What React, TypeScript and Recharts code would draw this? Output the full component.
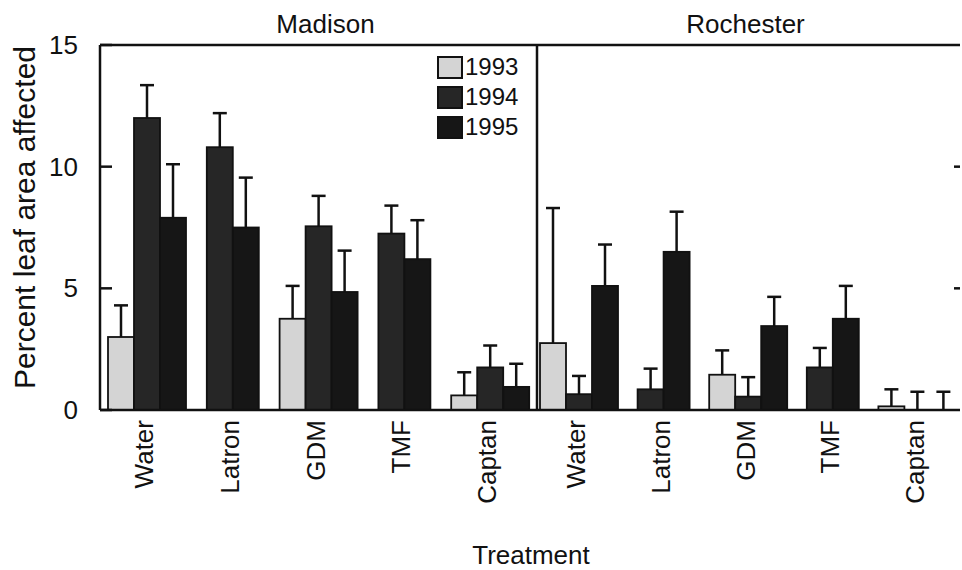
import { BarChart, Bar, XAxis, YAxis, Legend } from "recharts";

const FONT = '"Liberation Sans", Arial, Helvetica, sans-serif';
const INK = "#111111";

const treatments = ["Water", "Latron", "GDM", "TMF", "Captan"];
const years = ["1993", "1994", "1995"];
const yearFills = ["#d4d4d4", "#262626", "#161616"];
const yTicks = [0, 5, 10, 15];
const Y_MAX = 15;

// Madison, mean percent leaf area affected + upper error (SE)
const madison1993 = [3.0, null, 3.75, null, 0.6];
const madison1993Err = [1.3, null, 1.35, null, 0.95];
const madison1994 = [12.0, 10.8, 7.55, 7.25, 1.75];
const madison1994Err = [1.35, 1.4, 1.25, 1.15, 0.9];
const madison1995 = [7.9, 7.5, 4.85, 6.2, 0.95];
const madison1995Err = [2.2, 2.05, 1.7, 1.6, 0.95];

// Rochester
const rochester1993 = [2.75, null, 1.45, null, 0.15];
const rochester1993Err = [5.55, null, 1.0, null, 0.7];
const rochester1994 = [0.65, 0.85, 0.55, 1.75, 0];
const rochester1994Err = [0.75, 0.85, 0.8, 0.8, 0.75];
const rochester1995 = [5.1, 6.5, 3.45, 3.75, 0];
const rochester1995Err = [1.7, 1.65, 1.2, 1.35, 0.75];

function buildRows(vals: (number | null)[][], errs: (number | null)[][]) {
  return treatments.map((t, i) => {
    const row: any = { treatment: t };
    years.forEach((yr, k) => {
      row["y" + yr] = vals[k][i];
      row["e" + yr] = errs[k][i];
    });
    return row;
  });
}

const madisonRows = buildRows(
  [madison1993, madison1994, madison1995],
  [madison1993Err, madison1994Err, madison1995Err]
);
const rochesterRows = buildRows(
  [rochester1993, rochester1994, rochester1995],
  [rochester1993Err, rochester1994Err, rochester1995Err]
);

// bar + one-sided error bar; groups without 1993 are re-centred
function makeBarShape(year: string) {
  return (props: any) => {
    const { x, y, width, height, payload, background, fill } = props;
    const v = payload["y" + year];
    if (v == null) return <g />;
    const dx = payload.y1993 == null ? -width / 2 : 0;
    const plotH = background && background.height ? background.height : 365;
    const err = payload["e" + year] || 0;
    const errPx = (err / Y_MAX) * plotH;
    const cx = x + dx + width / 2;
    return (
      <g>
        {err > 0 && (
          <g stroke={INK} strokeWidth={2.5}>
            <line x1={cx} x2={cx} y1={y} y2={y - errPx} />
            <line x1={cx - 7} x2={cx + 7} y1={y - errPx} y2={y - errPx} />
          </g>
        )}
        {height > 0 && (
          <rect
            x={x + dx}
            y={y}
            width={width}
            height={height}
            fill={fill}
            stroke={INK}
            strokeWidth={1.8}
          />
        )}
      </g>
    );
  };
}

const LABEL_GAP = 22;

function LeftTick(props: any) {
  const { x, y, payload } = props;
  const ax = x + LABEL_GAP;
  return (
    <g>
      <line x1={ax} x2={ax + 12} y1={y} y2={y} stroke={INK} strokeWidth={2.5} />
      <text
        x={x}
        y={y}
        textAnchor="end"
        dominantBaseline="central"
        fontFamily={FONT}
        fontSize={26}
        fill={INK}
      >
        {payload.value}
      </text>
    </g>
  );
}

function RightTick(props: any) {
  const { x, y, payload } = props;
  if (payload.value === 0 || payload.value === Y_MAX) return <g />;
  return <line x1={x - 6} x2={x} y1={y} y2={y} stroke={INK} strokeWidth={2.5} />;
}

function TreatmentTick(props: any) {
  const { x, y, payload } = props;
  const tx = x - 3;
  return (
    <text
      x={tx}
      y={y}
      transform={`rotate(-90, ${tx}, ${y})`}
      textAnchor="end"
      dominantBaseline="central"
      fontFamily={FONT}
      fontSize={26}
      fill={INK}
    >
      {payload.value}
    </text>
  );
}

function YearLegend(props: any) {
  const { payload } = props;
  return (
    <div style={{ fontFamily: FONT, fontSize: 24, color: INK }}>
      {(payload || []).map((p: any) => (
        <div key={p.value} style={{ display: "flex", alignItems: "center", height: 30 }}>
          <span
            style={{
              display: "inline-block",
              width: 22,
              height: 19,
              background: p.color,
              border: `2px solid ${INK}`,
              marginRight: 2,
            }}
          />
          <span style={{ lineHeight: "30px" }}>{p.value}</span>
        </div>
      ))}
    </div>
  );
}

function YTitle(props: any) {
  const vb = props.viewBox || { x: 0, y: 45, width: 100, height: 365 };
  const cx = vb.x + 24;
  const cy = vb.y + vb.height / 2 - 10;
  return (
    <text
      transform={`translate(${cx}, ${cy}) rotate(-90)`}
      textAnchor="middle"
      dominantBaseline="central"
      fontFamily={FONT}
      fontSize={30}
      fill={INK}
    >
      Percent leaf area affected
    </text>
  );
}

function PanelTitle(props: any) {
  const vb = props.viewBox || { x: 0, y: 45, width: 100, height: 0 };
  const cx = vb.x + vb.width / 2 + (props.shift || 0);
  return (
    <text x={cx} y={33} textAnchor="middle" fontFamily={FONT} fontSize={26} fill={INK}>
      {props.title}
    </text>
  );
}

function bars(axisId: string | number) {
  return years.map((yr, k) => (
    <Bar
      key={yr}
      dataKey={"y" + yr}
      name={yr}
      yAxisId={axisId}
      fill={yearFills[k]}
      shape={makeBarShape(yr)}
      isAnimationActive={false}
    />
  ));
}

export default function App() {
  const axisStroke = { stroke: INK, strokeWidth: 2.5 };
  return (
    <div style={{ position: "relative", width: 962, height: 570, background: "#fff", fontFamily: FONT, overflow: "hidden" }}>
      <style>{"body{margin:0}"}</style>
      <div style={{ position: "absolute", left: 0, top: 0 }}>
        <BarChart
          width={540}
          height={570}
          data={madisonRows}
          margin={{ top: 44, right: 2, left: 0, bottom: 60 }}
          barSize={26}
          barGap={0}
        >
          <XAxis
            dataKey="treatment"
            height={100}
            interval={0}
            padding={{ left: 4, right: 4 }}
            tickLine={false}
            tickSize={0}
            tickMargin={10}
            tick={<TreatmentTick />}
            axisLine={axisStroke}
          />
          <XAxis
            xAxisId="top"
            orientation="top"
            dataKey="treatment"
            height={1}
            tick={false}
            tickLine={false}
            axisLine={axisStroke}
            label={{ content: <PanelTitle title="Madison" shift={7} /> }}
          />
          <YAxis
            yAxisId="m"
            width={100}
            domain={[0, Y_MAX]}
            ticks={yTicks}
            interval={0}
            tickLine={false}
            tickSize={0}
            tickMargin={LABEL_GAP}
            tick={<LeftTick />}
            axisLine={axisStroke}
            label={{ content: <YTitle /> }}
          />
          <YAxis
            yAxisId="r"
            orientation="right"
            width={1}
            domain={[0, Y_MAX]}
            tick={false}
            tickLine={false}
            axisLine={axisStroke}
          />
          <Legend
            layout="horizontal"
            verticalAlign="middle"
            align="center"
            content={<YearLegend />}
            wrapperStyle={{ top: 52, left: 437, width: "auto", height: "auto" }}
          />
          {bars("m")}
        </BarChart>
      </div>
      <div style={{ position: "absolute", left: 537, top: 0 }}>
        <BarChart
          width={425}
          height={570}
          data={rochesterRows}
          margin={{ top: 44, right: 0, left: 0, bottom: 60 }}
          barSize={26}
          barGap={0}
        >
          <XAxis
            dataKey="treatment"
            height={100}
            interval={0}
            tickLine={false}
            tickSize={0}
            tickMargin={10}
            tick={<TreatmentTick />}
            axisLine={axisStroke}
          />
          <XAxis
            xAxisId="top"
            orientation="top"
            dataKey="treatment"
            height={1}
            tick={false}
            tickLine={false}
            axisLine={axisStroke}
            label={{ content: <PanelTitle title="Rochester" shift={-3} /> }}
          />
          <YAxis
            yAxisId="r"
            orientation="right"
            width={2}
            domain={[0, Y_MAX]}
            ticks={yTicks}
            interval={0}
            tickLine={false}
            tickSize={0}
            tickMargin={0}
            tick={<RightTick />}
            axisLine={false}
          />
          {bars("r")}
        </BarChart>
      </div>
      <div
        style={{
          position: "absolute",
          left: 100,
          top: 542,
          width: 862,
          textAlign: "center",
          fontSize: 26,
          lineHeight: "26px",
          color: INK,
        }}
      >
        Treatment
      </div>
    </div>
  );
}
